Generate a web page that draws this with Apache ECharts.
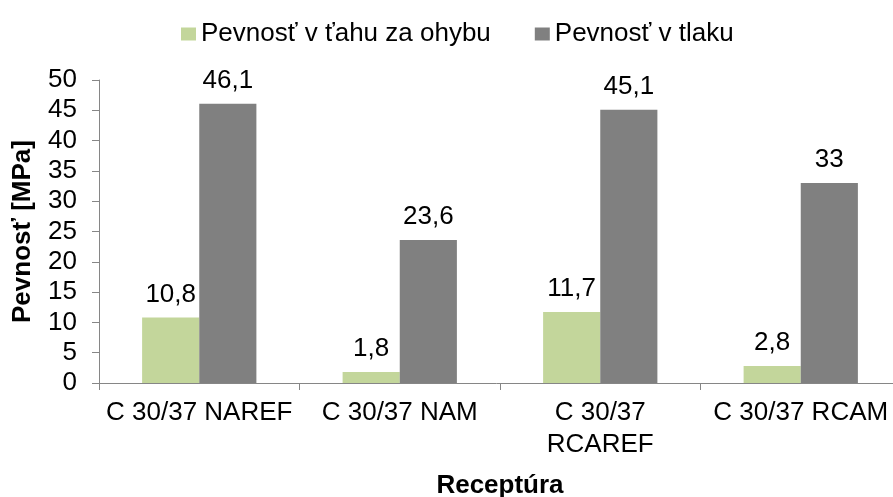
<!DOCTYPE html>
<html><head><meta charset="utf-8">
<script src="https://cdn.jsdelivr.net/npm/echarts@6/dist/echarts.min.js"></script>
<style>html,body{margin:0;padding:0;background:#fff}#c{width:893px;height:497px}</style>
</head><body><div id="c"></div>
<script>
const categories = ['C 30/37 NAREF', 'C 30/37 NAM', 'C 30/37\nRCAREF', 'C 30/37 RCAM'];
const seriesNames = ['Pevnosť v ťahu za ohybu', 'Pevnosť v tlaku'];
const flexural = [10.8, 1.8, 11.7, 2.8];
const compressive = [46.1, 23.6, 45.1, 33];
const yTicks = { min: 0, max: 50, interval: 5 };

const FONT = 'Liberation Sans, Arial, sans-serif';
const FS = 26;
const fmt = p => String(p.value).replace('.', ',');
const chart = echarts.init(document.getElementById('c'), null, { renderer: 'canvas' });
chart.setOption({
  animation: false,
  textStyle: { fontFamily: FONT },
  legend: {
    top: 16, left: 176, itemWidth: 15, itemHeight: 13, itemGap: 44,
    icon: 'rect',
    textStyle: { fontSize: FS, color: '#000', fontFamily: FONT },
    data: seriesNames
  },
  grid: { left: 99, right: -8, top: 80, bottom: 114, containLabel: false, outerBoundsMode: 'none' },
  xAxis: {
    type: 'category', data: categories,
    name: 'Receptúra', nameLocation: 'middle', nameGap: 90,
    nameTextStyle: { fontSize: FS, fontWeight: 'bold', color: '#000', fontFamily: FONT },
    axisLine: { lineStyle: { color: '#868686', width: 1 } },
    axisTick: { show: true, length: 7, lineStyle: { color: '#868686' } },
    axisLabel: { fontSize: FS, color: '#000', margin: 14, interval: 0, lineHeight: 32, fontFamily: FONT }
  },
  yAxis: {
    type: 'value', min: yTicks.min, max: yTicks.max, interval: yTicks.interval,
    name: 'Pevnosť [MPa]', nameLocation: 'middle', nameGap: 63,
    nameTextStyle: { fontSize: FS, fontWeight: 'bold', color: '#000', fontFamily: FONT },
    axisLine: { show: true, lineStyle: { color: '#868686', width: 1 } },
    axisTick: { show: true, length: 7, lineStyle: { color: '#868686' } },
    splitLine: { show: false },
    axisLabel: { fontSize: FS, color: '#000', margin: 22, fontFamily: FONT }
  },
  series: [
    {
      name: seriesNames[0], type: 'bar', data: flexural, barGap: '0%', barCategoryGap: '43%',
      itemStyle: { color: '#c3d69b' },
      label: { show: true, position: 'top', distance: 10, fontSize: FS, color: '#000', formatter: fmt, fontFamily: FONT }
    },
    {
      name: seriesNames[1], type: 'bar', data: compressive, barGap: '0%', barCategoryGap: '43%',
      itemStyle: { color: '#808080' },
      label: { show: true, position: 'top', distance: 10, fontSize: FS, color: '#000', formatter: fmt, fontFamily: FONT }
    }
  ]
});
</script></body></html>
